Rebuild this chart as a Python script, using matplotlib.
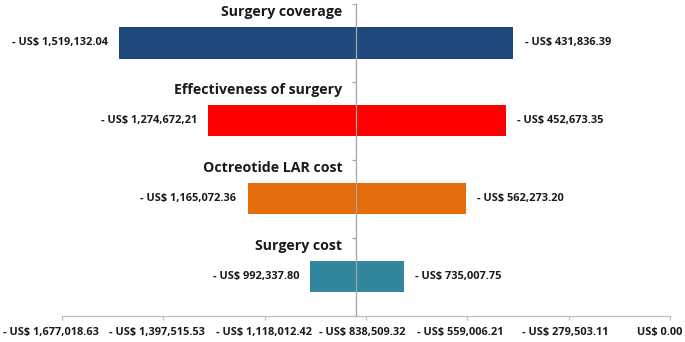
import matplotlib
matplotlib.use('Agg')
import matplotlib.pyplot as plt
from matplotlib.transforms import ScaledTranslation

plt.rcParams['font.family'] = ['Open Sans', 'DejaVu Sans']

categories = ['Surgery coverage', 'Effectiveness of surgery', 'Octreotide LAR cost', 'Surgery cost']
low_values = [-1519132.04, -1274672.21, -1165072.36, -992337.80]
high_values = [-431836.39, -452673.35, -562273.20, -735007.75]
low_labels = ['- US$ 1,519,132.04', '- US$ 1,274,672,21', '- US$ 1,165,072.36', '- US$ 992,337.80']
high_labels = ['- US$ 431,836.39', '- US$ 452,673.35', '- US$ 562,273.20', '- US$ 735,007.75']
colors = ['#1F497D', '#FF0000', '#E46C0A', '#31859C']
base_value = -865000
tick_values = [-1677018.63, -1397515.53, -1118012.42, -838509.32, -559006.21, -279503.11, 0.0]
tick_labels = ['- US$ 1,677,018.63', '- US$ 1,397,515.53', '- US$ 1,118,012.42', '- US$ 838,509.32',
               '- US$ 559,006.21', '- US$ 279,503.11', 'US$ 0.00']

fig = plt.figure(figsize=(6.85, 3.42), dpi=100)
ax = fig.add_axes([62/685, 26.3/342, 608/685, (315.7-4)/342])

n = len(categories)
ypos = [i + 0.5 for i in range(n)]
for i in range(n):
    ax.barh(ypos[i], high_values[i] - low_values[i], left=low_values[i], height=0.4,
            color=colors[i], zorder=2)
    ax.annotate(low_labels[i], xy=(low_values[i], ypos[i]), xytext=(-8, 0),
                textcoords='offset points', ha='right', va='center',
                fontsize=7.9, fontweight='bold', color='#1a1a1a')
    ax.annotate(high_labels[i], xy=(high_values[i], ypos[i]), xytext=(8, 0),
                textcoords='offset points', ha='left', va='center',
                fontsize=7.9, fontweight='bold', color='#1a1a1a')
    ax.annotate(categories[i], xy=(base_value, i + 0.1), xytext=(-10, 0),
                textcoords='offset points', ha='right', va='center',
                fontsize=10.2, fontweight='bold', color='#1a1a1a')

ax.set_xlim(tick_values[0], tick_values[-1])
ax.set_ylim(n, 0)

ax.spines['top'].set_visible(False)
ax.spines['right'].set_visible(False)
ax.spines['left'].set_position(('data', base_value))
ax.spines['left'].set_color('#a6a6a6')
ax.spines['left'].set_linewidth(0.9)
ax.spines['left'].set_zorder(3)
ax.spines['bottom'].set_color('#bfbfbf')
ax.spines['bottom'].set_linewidth(0.9)

ax.set_yticks(list(range(n + 1)))
ax.set_yticklabels([])
ax.tick_params(axis='y', direction='out', length=3, color='#a6a6a6', width=0.9)

ax.set_xticks(tick_values)
ax.set_xticklabels(tick_labels, fontsize=7.9, fontweight='bold', color='#1a1a1a')
ax.tick_params(axis='x', direction='out', length=3, color='#bfbfbf', width=0.9, pad=5)

labs = ax.get_xticklabels()
shifts = [-11, -6, -1, -4, -7, -3, -10]
for lab, s in zip(labs, shifts):
    lab.set_transform(lab.get_transform() + ScaledTranslation(s/100, 0, fig.dpi_scale_trans))

fig.savefig('out.png', dpi=100)
